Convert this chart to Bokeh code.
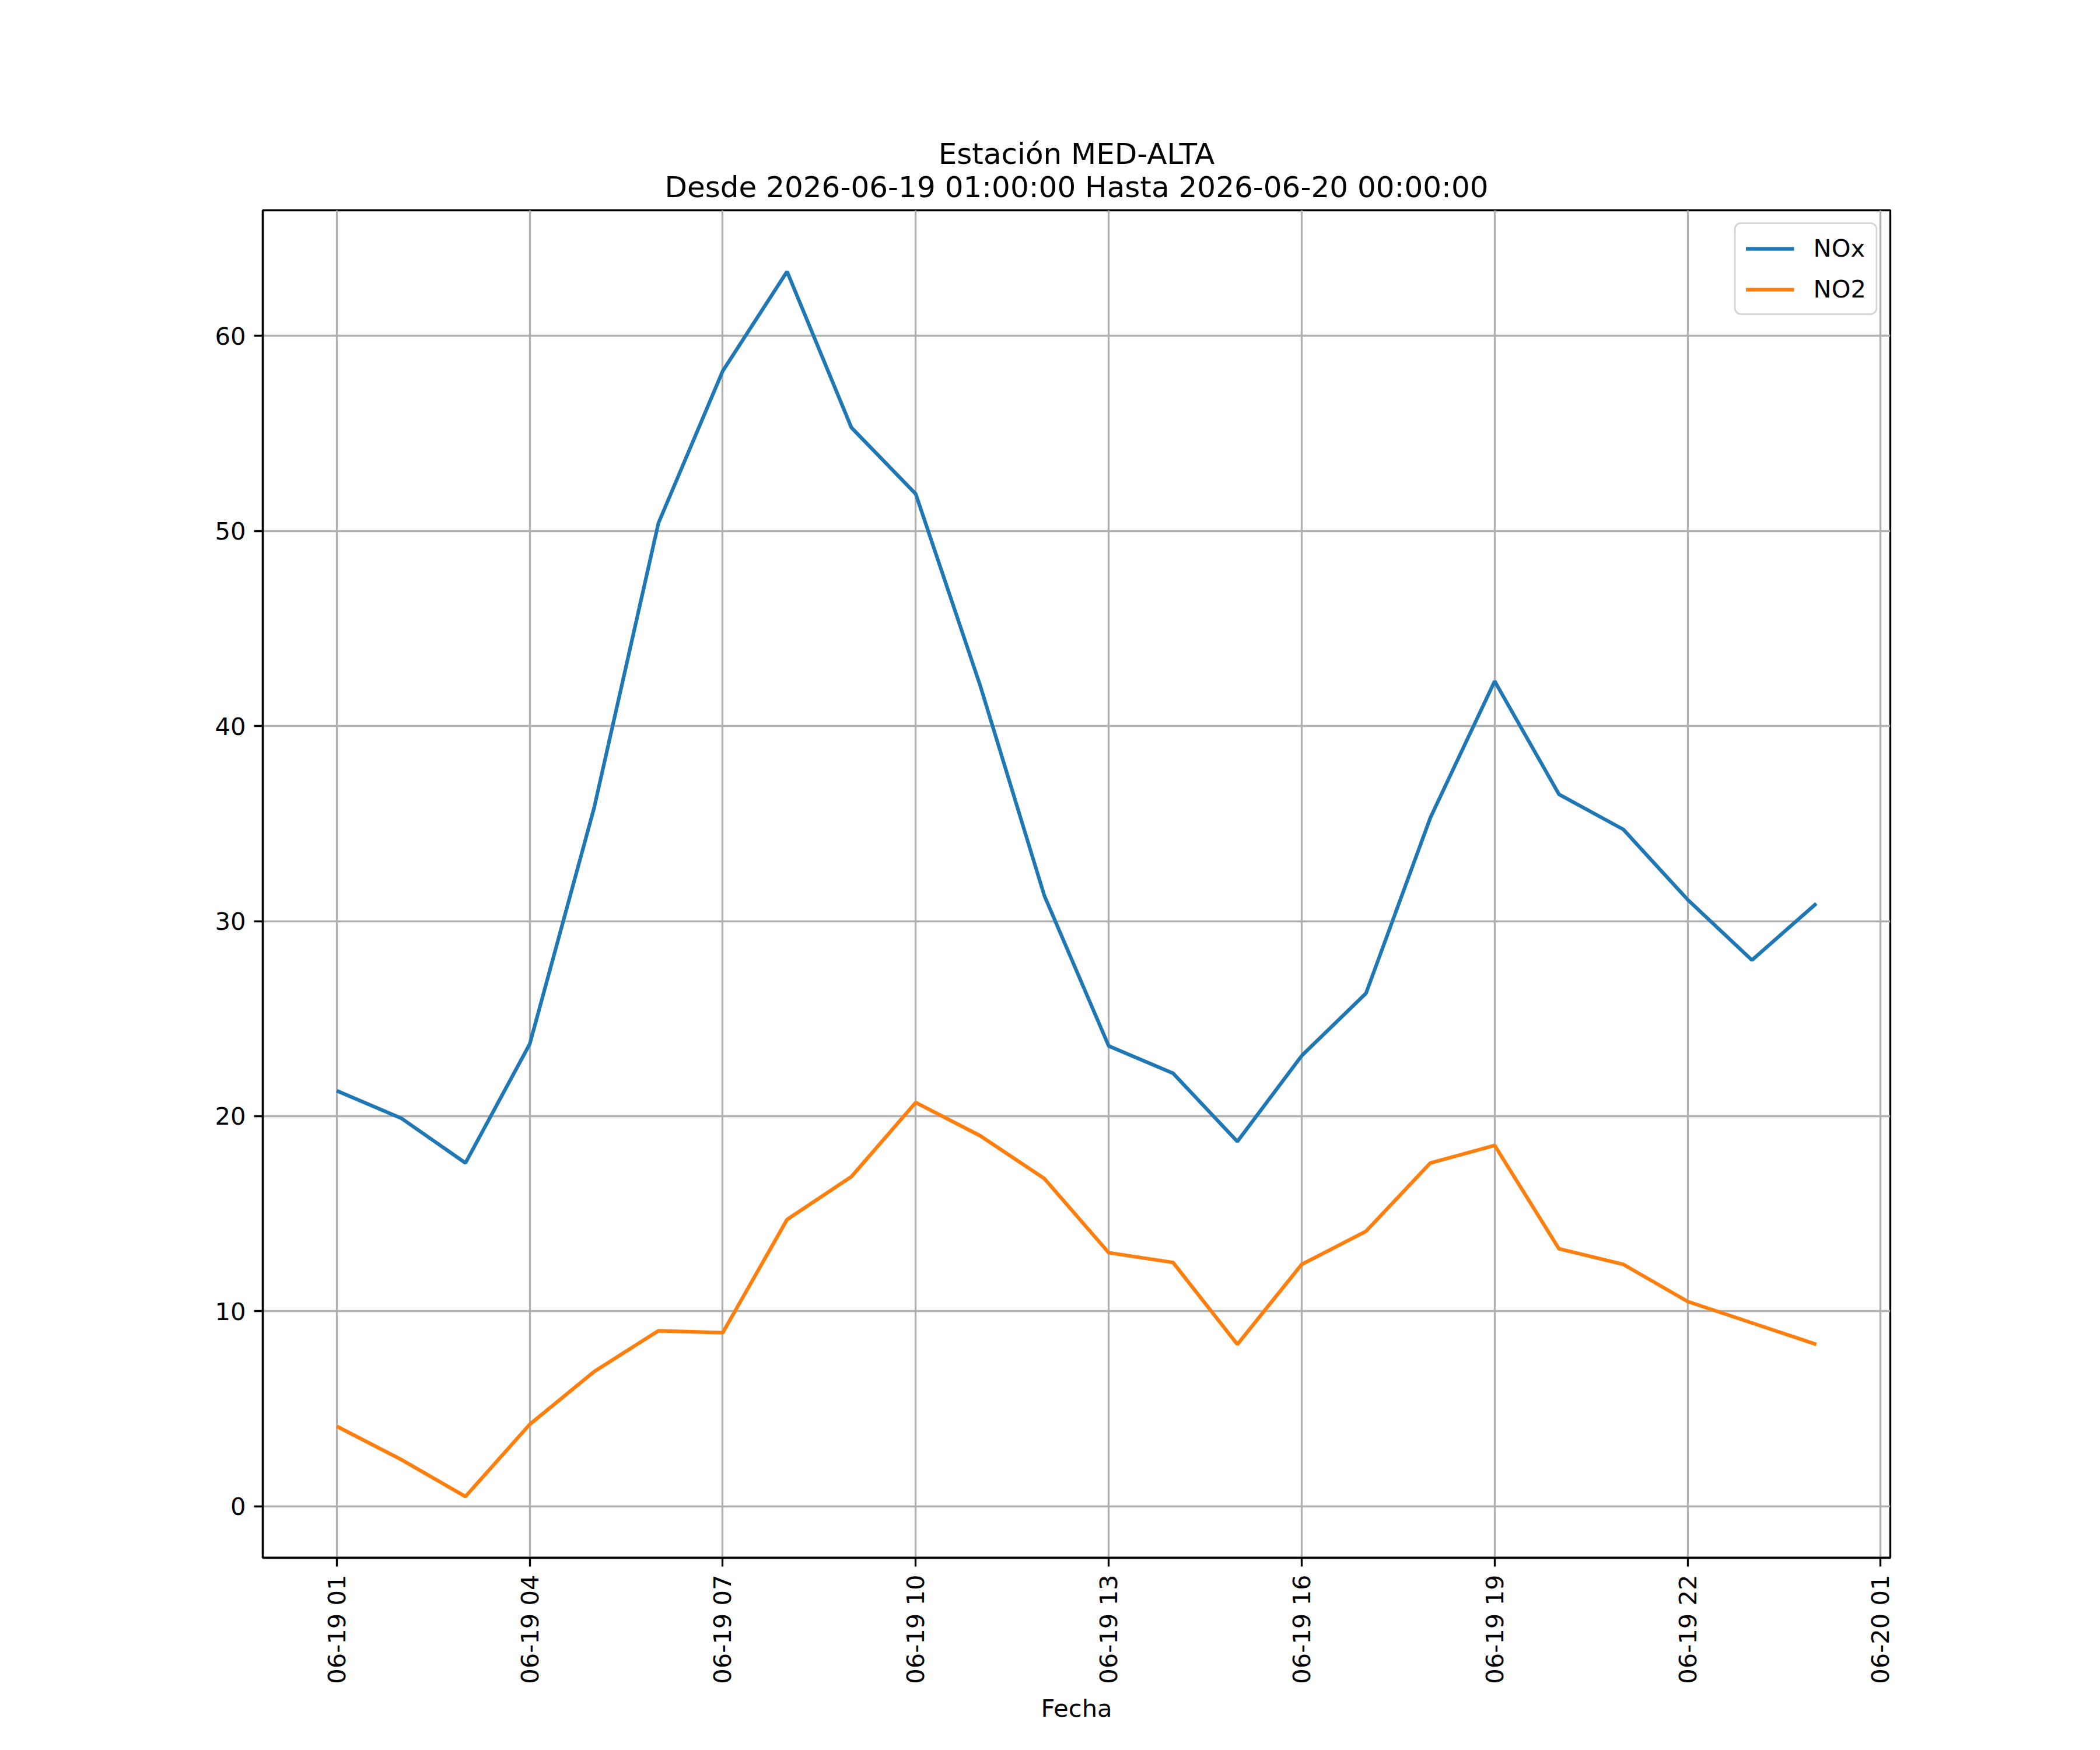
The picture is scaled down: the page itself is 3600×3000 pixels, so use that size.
import pandas as pd
from bokeh.plotting import figure
from bokeh.models import Range1d, FixedTicker, DatetimeTickFormatter, Legend, LegendItem, Title
from bokeh.embed import file_html
from bokeh.resources import INLINE
import math

# ---- data ----
hours = ["2026-06-19 01:00", "2026-06-19 02:00", "2026-06-19 03:00", "2026-06-19 04:00",
         "2026-06-19 05:00", "2026-06-19 06:00", "2026-06-19 07:00", "2026-06-19 08:00",
         "2026-06-19 09:00", "2026-06-19 10:00", "2026-06-19 11:00", "2026-06-19 12:00",
         "2026-06-19 13:00", "2026-06-19 14:00", "2026-06-19 15:00", "2026-06-19 16:00",
         "2026-06-19 17:00", "2026-06-19 18:00", "2026-06-19 19:00", "2026-06-19 20:00",
         "2026-06-19 21:00", "2026-06-19 22:00", "2026-06-19 23:00", "2026-06-20 00:00"]
nox = [21.3, 19.9, 17.6, 23.7, 35.8, 50.4, 58.2, 63.3, 55.3, 51.9, 42.1, 31.3,
       23.6, 22.2, 18.7, 23.1, 26.3, 35.3, 42.3, 36.5, 34.7, 31.1, 28.0, 30.9]
no2 = [4.1, 2.4, 0.5, 4.2, 6.9, 9.0, 8.9, 14.7, 16.9, 20.7, 19.0, 16.8,
       13.0, 12.5, 8.3, 12.4, 14.1, 17.6, 18.5, 13.2, 12.4, 10.5, 9.4, 8.3]
x_tick_times = ["2026-06-19 01:00", "2026-06-19 04:00", "2026-06-19 07:00",
                "2026-06-19 10:00", "2026-06-19 13:00", "2026-06-19 16:00",
                "2026-06-19 19:00", "2026-06-19 22:00", "2026-06-20 01:00"]
y_ticks = [0, 10, 20, 30, 40, 50, 60]
series_names = ["NOx", "NO2"]
title_lines = ["Estación MED-ALTA", "Desde 2026-06-19 01:00:00 Hasta 2026-06-20 00:00:00"]
x_label = "Fecha"

# ---- scales ----
t = pd.to_datetime(hours)
tms = [ts.value / 1e6 for ts in t]
xspan = tms[-1] - tms[0]
allv = nox + no2
ymin, ymax = min(allv), max(allv)
yspan = ymax - ymin

FONT = "DejaVu Sans"
FS = "41.67px"
LW = 3.33

p = figure(width=3584, height=2984, x_axis_type="datetime", title=None,
           output_backend="svg", toolbar_location=None,
           x_range=Range1d(tms[0] - 0.05 * xspan, tms[-1] + 0.05 * xspan),
           y_range=Range1d(ymin - 0.05 * yspan, ymax + 0.05 * yspan),
           min_border_left=450, min_border_right=344,
           min_border_top=360, min_border_bottom=314)
p.background_fill_color = "white"
p.border_fill_color = "white"
p.outline_line_color = "black"
p.outline_line_width = LW

# title lines: the one added first sits nearest the frame
for txt, so in ((title_lines[1], 22), (title_lines[0], -28)):
    p.add_layout(Title(text=txt, align="center", text_font=FONT, text_font_size="50px",
                       text_font_style="normal", text_color="black", standoff=so), "above")

colors = ["#1f77b4", "#ff7f0e"]
r1 = p.line(t, nox, line_color=colors[0], line_width=6.25)
r2 = p.line(t, no2, line_color=colors[1], line_width=6.25)

xa = p.xaxis[0]
xa.ticker = FixedTicker(ticks=[pd.Timestamp(s).value / 1e6 for s in x_tick_times])
fmt = "%m-%d %H"
xa.formatter = DatetimeTickFormatter(hours=fmt, hourmin=fmt, days=fmt, months=fmt,
                                     minutes=fmt, seconds=fmt, milliseconds=fmt,
                                     minsec=fmt, years=fmt)
xa.major_label_orientation = math.pi / 2
xa.axis_label = x_label

ya = p.yaxis[0]
ya.ticker = FixedTicker(ticks=y_ticks)

for ax in (xa, ya):
    ax.axis_line_color = "black"
    ax.axis_line_width = LW
    ax.major_tick_line_width = LW
    ax.major_tick_line_color = "black"
    ax.major_tick_out = 15
    ax.major_tick_in = 0
    ax.minor_tick_line_color = None
    ax.major_label_text_font = FONT
    ax.major_label_text_font_size = FS
    ax.major_label_text_color = "black"
    ax.major_label_standoff = 14
    ax.axis_label_text_font = FONT
    ax.axis_label_text_font_size = FS
    ax.axis_label_text_font_style = "normal"
    ax.axis_label_text_color = "black"
    ax.axis_label_standoff = 14

for g in (p.xgrid[0], p.ygrid[0]):
    g.grid_line_color = "#b0b0b0"
    g.grid_line_width = LW

legend = Legend(items=[LegendItem(label=series_names[0], renderers=[r1]),
                       LegendItem(label=series_names[1], renderers=[r2])],
                location="top_right")
legend.margin = 21
legend.padding = 17
legend.spacing = 21
legend.glyph_width = 83
legend.glyph_height = 42
legend.label_standoff = 33
legend.label_text_font = FONT
legend.label_text_font_size = FS
legend.label_text_color = "black"
legend.label_height = 42
legend.border_line_color = "#cccccc"
legend.border_line_alpha = 0.8
legend.border_line_width = LW
legend.background_fill_alpha = 0.8
if "border_radius" in legend.properties():
    legend.border_radius = 12
p.add_layout(legend)

open("out.html", "w").write(file_html(p, INLINE))
